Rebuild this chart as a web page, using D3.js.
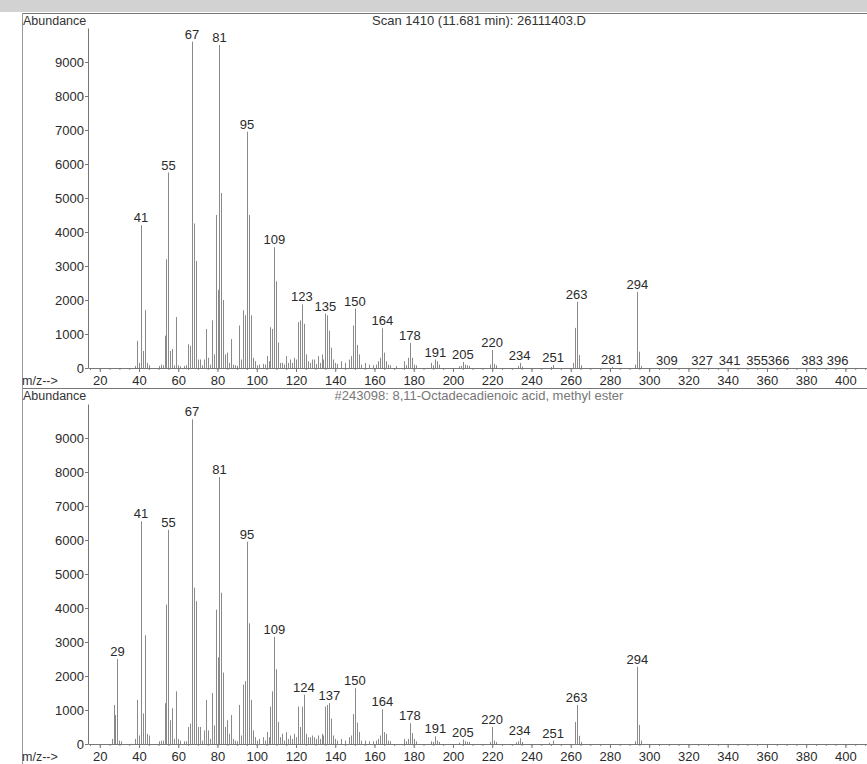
<!DOCTYPE html>
<html>
<head>
<meta charset="utf-8">
<script src="https://cdnjs.cloudflare.com/ajax/libs/d3/7.8.5/d3.min.js"></script>
<style>
  body { margin: 0; background: #fff; }
  svg { display: block; font-family: "Liberation Sans", Arial, sans-serif; }
</style>
</head>
<body>
<div id="chart"></div>
<script>
// Measured scan, [m/z, abundance]
const scanPeaks = [
  [38, 60], [39, 800], [40, 150], [41, 4200], [42, 500], [43, 1700], [44, 150], [45, 80],
  [50, 60], [51, 100], [52, 80], [53, 950], [54, 3200], [55, 5750], [56, 500], [57, 560],
  [58, 80], [59, 1500], [60, 80], [61, 50], [63, 60], [64, 80], [65, 700], [66, 650],
  [67, 9600], [68, 4250], [69, 3150], [70, 250], [71, 250], [72, 80], [73, 250], [74, 1150],
  [75, 300], [76, 100], [77, 1400], [78, 400], [79, 4500], [80, 2300], [81, 9500], [82, 5150],
  [83, 2000], [84, 400], [85, 450], [86, 150], [87, 850], [88, 100], [89, 80], [90, 60],
  [91, 1250], [92, 250], [93, 1700], [94, 1550], [95, 6950], [96, 4500], [97, 1550], [98, 300],
  [99, 200], [100, 80], [101, 100], [103, 120], [104, 100], [105, 350], [106, 200], [107, 1200],
  [108, 1150], [109, 3550], [110, 2550], [111, 750], [112, 150], [113, 150], [114, 100], [115, 350],
  [116, 150], [117, 250], [118, 150], [119, 300], [120, 250], [121, 1350], [122, 1400], [123, 1870],
  [124, 1300], [125, 400], [126, 200], [127, 150], [128, 250], [129, 250], [130, 120], [131, 350],
  [132, 150], [133, 400], [134, 250], [135, 1600], [136, 1550], [137, 1100], [138, 600], [139, 250],
  [140, 150], [141, 120], [143, 200], [145, 150], [147, 250], [148, 350], [149, 1250], [150, 1750],
  [151, 680], [152, 400], [153, 100], [155, 150], [157, 100], [159, 80], [161, 100], [162, 200],
  [163, 300], [164, 1170], [165, 450], [166, 200], [167, 100], [168, 80], [171, 60], [175, 200],
  [176, 80], [177, 300], [178, 740], [179, 300], [180, 100], [181, 80], [189, 150], [190, 80],
  [191, 250], [192, 200], [193, 100], [203, 50], [204, 60], [205, 180], [206, 100], [207, 80],
  [208, 60], [219, 100], [220, 530], [221, 120], [222, 80], [233, 60], [234, 150], [235, 40],
  [250, 30], [251, 90], [261, 150], [262, 1180], [263, 1950], [264, 380], [265, 80], [281, 30],
  [293, 100], [294, 2240], [295, 480], [296, 60]
];
const scanLabels = [41, 55, 67, 81, 95, 109, 123, 135, 150, 164, 178, 191, 205, 220, 234, 251,
  263, 281, 294, 309, 327, 341, 355, 366, 383, 396];

// Library match, [m/z, abundance]
const libPeaks = [
  [26, 150], [27, 1150], [28, 850], [29, 2500], [30, 100], [31, 80], [38, 150], [39, 1300],
  [40, 250], [41, 6550], [42, 900], [43, 3200], [44, 300], [45, 250], [50, 80], [51, 100],
  [52, 100], [53, 1200], [54, 4100], [55, 6300], [56, 700], [57, 1050], [58, 150], [59, 1550],
  [60, 150], [61, 100], [63, 80], [64, 80], [65, 500], [66, 600], [67, 9550], [68, 4600],
  [69, 4200], [70, 500], [71, 500], [72, 100], [73, 400], [74, 1300], [75, 400], [76, 150],
  [77, 1500], [78, 550], [79, 3950], [80, 2550], [81, 7850], [82, 4450], [83, 2100], [84, 500],
  [85, 700], [86, 300], [87, 850], [88, 150], [89, 100], [90, 80], [91, 1150], [92, 250],
  [93, 1750], [94, 1850], [95, 5950], [96, 3550], [97, 1300], [98, 400], [99, 200], [100, 100],
  [101, 150], [103, 200], [104, 100], [105, 350], [106, 200], [107, 1100], [108, 1550], [109, 3150],
  [110, 2200], [111, 650], [112, 200], [113, 300], [114, 100], [115, 350], [116, 150], [117, 250],
  [118, 150], [119, 300], [120, 200], [121, 1100], [122, 500], [123, 1100], [124, 1450], [125, 300],
  [126, 200], [127, 200], [128, 250], [129, 200], [130, 150], [131, 250], [132, 150], [133, 300],
  [134, 250], [135, 1100], [136, 1150], [137, 1200], [138, 750], [139, 250], [140, 150], [141, 100],
  [143, 150], [145, 100], [147, 200], [148, 250], [149, 880], [150, 1640], [151, 630], [152, 350],
  [153, 100], [155, 100], [157, 80], [159, 80], [161, 100], [162, 150], [163, 250], [164, 1020],
  [165, 350], [166, 300], [167, 100], [168, 80], [175, 150], [176, 80], [177, 150], [178, 610],
  [179, 320], [180, 150], [181, 80], [189, 80], [190, 60], [191, 230], [192, 100], [193, 60],
  [203, 40], [205, 130], [206, 80], [207, 60], [208, 60], [219, 60], [220, 500], [221, 100],
  [222, 60], [232, 50], [233, 80], [234, 170], [235, 60], [249, 30], [251, 100], [262, 650],
  [263, 1150], [264, 240], [265, 60], [293, 80], [294, 2270], [295, 560], [296, 100]
];
const libLabels = [29, 41, 55, 67, 81, 95, 109, 124, 137, 150, 164, 178, 191, 205, 220, 234,
  251, 263, 294];

const mzTicks = d3.range(20, 401, 20);
const mzMinorTicks = d3.range(15, 411, 5);
const abundanceTicks = d3.range(0, 9001, 1000);
const scanTitle = "Scan 1410 (11.681 min): 26111403.D";
const libTitle = "#243098: 8,11-Octadecadienoic acid, methyl ester";

const w = 867;
const h = 764;
const fontSize = 13;

const svg = d3.select("#chart")
  .append("svg")
  .attr("width", w)
  .attr("height", h);

// light grey strip along the top of the scan
svg.append("rect")
  .attr("x", 0).attr("y", 0)
  .attr("width", w).attr("height", 12)
  .attr("fill", "#d2d2d2");

drawPanel(scanPeaks, scanLabels, scanTitle, 13, 368, "#333");
drawPanel(libPeaks, libLabels, libTitle, 388, 744, "#777");

// One spectrum panel: frame, axes, sticks and peak labels
function drawPanel(peaks, labels, title, top, base, titleColor) {
  const g = svg.append("g");

  // x: m/z, y: abundance
  const x = d3.scaleLinear().domain([14, 411]).range([88, 867]);
  const y = d3.scaleLinear().domain([0, 10000]).range([base, base - 340]);

  // frame
  g.append("line")
    .attr("x1", 22).attr("x2", w)
    .attr("y1", top + 0.5).attr("y2", top + 0.5)
    .attr("stroke", "#777");
  g.append("line")
    .attr("x1", 22.5).attr("x2", 22.5)
    .attr("y1", top).attr("y2", top + 376)
    .attr("stroke", "#999");

  g.append("text")
    .attr("x", 23).attr("y", top + 12)
    .attr("font-size", 12.5)
    .attr("fill", "#333")
    .text("Abundance");

  g.append("text")
    .attr("x", 479).attr("y", top + 12)
    .attr("text-anchor", "middle")
    .attr("font-size", fontSize)
    .attr("fill", titleColor)
    .text(title);

  // sticks
  g.selectAll(".stick")
    .data(peaks)
    .enter()
    .append("line")
    .attr("class", "stick")
    .attr("x1", (d) => Math.round(x(d[0])) + 0.5)
    .attr("x2", (d) => Math.round(x(d[0])) + 0.5)
    .attr("y1", y(0))
    .attr("y2", (d) => y(d[1]))
    .attr("stroke", "#8a8a8a")
    .attr("stroke-width", 1);

  // peak labels
  const lookup = new Map(peaks);
  g.selectAll(".peak-label")
    .data(labels)
    .enter()
    .append("text")
    .attr("class", "peak-label")
    .attr("x", (d) => x(d))
    .attr("y", (d) => y(lookup.get(d) || 0) - 3)
    .attr("text-anchor", "middle")
    .attr("font-size", fontSize)
    .attr("fill", "#2a2a2a")
    .text((d) => d);

  // x axis
  const xAxis = g.append("g")
    .attr("transform", `translate(0,${base})`)
    .call(d3.axisBottom(x).tickValues(mzMinorTicks).tickSize(2).tickFormat(""));
  xAxis.select(".domain").remove();
  xAxis.selectAll("line").attr("stroke", "#888");

  const xMajor = g.append("g")
    .attr("transform", `translate(0,${base})`)
    .call(d3.axisBottom(x).tickValues(mzTicks).tickSize(4).tickPadding(3.5)
      .tickSizeOuter(0).tickFormat(d3.format("d")));
  xMajor.select(".domain").attr("stroke", "#777");
  xMajor.selectAll("line").attr("stroke", "#777");
  xMajor.selectAll("text").attr("font-size", fontSize).attr("fill", "#2a2a2a")
    .attr("font-family", "Liberation Sans, Arial, sans-serif");

  g.append("text")
    .attr("x", 22).attr("y", base + 16.5)
    .attr("font-size", 12.5)
    .attr("fill", "#333")
    .text("m/z-->");

  // y axis
  const yAxis = g.append("g")
    .attr("transform", "translate(88,0)")
    .call(d3.axisLeft(y).tickValues(abundanceTicks).tickSize(3).tickPadding(1)
      .tickSizeOuter(0).tickFormat(d3.format("d")));
  yAxis.select(".domain").attr("stroke", "#777");
  yAxis.selectAll("line").attr("stroke", "#777");
  yAxis.selectAll("text").attr("font-size", fontSize).attr("fill", "#2a2a2a")
    .attr("font-family", "Liberation Sans, Arial, sans-serif");
}
</script>
</body>
</html>
